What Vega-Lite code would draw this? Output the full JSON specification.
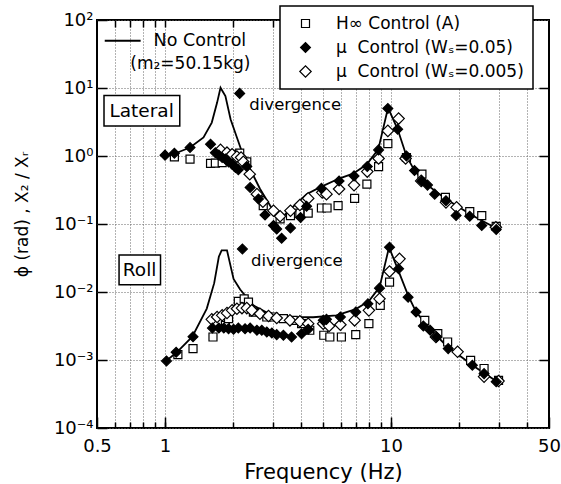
{
  "$schema": "https://vega.github.io/schema/vega-lite/v6.json",
  "width": 452,
  "height": 408,
  "autosize": {"type": "none"},
  "padding": {"left": 97, "top": 20, "right": 12, "bottom": 56},
  "background": "white",
  "config": {
    "view": {"stroke": "black", "strokeWidth": 2},
    "font": "DejaVu Sans",
    "axis": {
      "domain": false, "labelFont": "DejaVu Sans", "titleFont": "DejaVu Sans",
      "labelColor": "black", "titleColor": "black", "tickColor": "black", "tickWidth": 1.5,
      "gridColor": "#666", "gridDash": [1, 2], "gridWidth": 1, "titleFontWeight": "normal",
      "labelFontSize": 18, "labelOverlap": false, "labelFlush": false, "labelBound": false
    },
    "legend": {
      "orient": "none", "legendX": 183, "legendY": -14, "strokeColor": "black", "strokeWidth": 1.5,
      "fillColor": "white", "padding": 9, "labelFont": "DejaVu Sans", "labelFontSize": 17,
      "labelColor": "black", "rowPadding": 6, "symbolOffset": 8, "labelOffset": 22,
      "symbolStrokeColor": "black", "symbolStrokeWidth": 1.2, "labelLimit": 400
    }
  },
  "datasets": {
    "nocontrol": [
      {"c": "lat", "f": 1.0, "v": 1.0}, {"c": "lat", "f": 1.1, "v": 1.08}, {"c": "lat", "f": 1.29, "v": 1.33},
      {"c": "lat", "f": 1.48, "v": 1.87}, {"c": "lat", "f": 1.61, "v": 3.1}, {"c": "lat", "f": 1.7, "v": 6.1},
      {"c": "lat", "f": 1.76, "v": 10.1}, {"c": "lat", "f": 1.85, "v": 7.6}, {"c": "lat", "f": 1.95, "v": 3.47},
      {"c": "lat", "f": 2.08, "v": 1.87}, {"c": "lat", "f": 2.22, "v": 1.01}, {"c": "lat", "f": 2.38, "v": 0.64},
      {"c": "lat", "f": 2.63, "v": 0.33}, {"c": "lat", "f": 2.92, "v": 0.186}, {"c": "lat", "f": 3.23, "v": 0.117},
      {"c": "lat", "f": 3.59, "v": 0.166}, {"c": "lat", "f": 4.23, "v": 0.275}, {"c": "lat", "f": 4.84, "v": 0.345},
      {"c": "lat", "f": 5.93, "v": 0.47}, {"c": "lat", "f": 6.79, "v": 0.55}, {"c": "lat", "f": 7.8, "v": 0.75},
      {"c": "lat", "f": 8.78, "v": 1.25}, {"c": "lat", "f": 9.7, "v": 5.1}, {"c": "lat", "f": 10.7, "v": 2.47},
      {"c": "lat", "f": 11.7, "v": 1.0}, {"c": "lat", "f": 12.7, "v": 0.61}, {"c": "lat", "f": 14.3, "v": 0.386},
      {"c": "lat", "f": 17.5, "v": 0.233}, {"c": "lat", "f": 22.9, "v": 0.133}, {"c": "lat", "f": 29.5, "v": 0.085},
      {"c": "roll", "f": 1.0, "v": 0.00094}, {"c": "roll", "f": 1.13, "v": 0.00131}, {"c": "roll", "f": 1.32, "v": 0.0022},
      {"c": "roll", "f": 1.53, "v": 0.0057}, {"c": "roll", "f": 1.65, "v": 0.0135}, {"c": "roll", "f": 1.73, "v": 0.033},
      {"c": "roll", "f": 1.78, "v": 0.041}, {"c": "roll", "f": 1.88, "v": 0.041}, {"c": "roll", "f": 1.93, "v": 0.028},
      {"c": "roll", "f": 2.01, "v": 0.0156}, {"c": "roll", "f": 2.15, "v": 0.0109}, {"c": "roll", "f": 2.46, "v": 0.00635},
      {"c": "roll", "f": 2.82, "v": 0.005}, {"c": "roll", "f": 3.45, "v": 0.0043}, {"c": "roll", "f": 4.52, "v": 0.00425},
      {"c": "roll", "f": 5.73, "v": 0.00454}, {"c": "roll", "f": 6.99, "v": 0.0056}, {"c": "roll", "f": 8.0, "v": 0.0074},
      {"c": "roll", "f": 8.9, "v": 0.0118}, {"c": "roll", "f": 9.8, "v": 0.0455}, {"c": "roll", "f": 10.7, "v": 0.0219},
      {"c": "roll", "f": 11.9, "v": 0.0089}, {"c": "roll", "f": 12.9, "v": 0.0051}, {"c": "roll", "f": 14.8, "v": 0.0029},
      {"c": "roll", "f": 17.5, "v": 0.00165}, {"c": "roll", "f": 22.9, "v": 0.00084}, {"c": "roll", "f": 29.5, "v": 0.00048}
    ],
    "points": [
      {"s": "H∞ Control (A)", "f": 1.1, "v": 0.97}, {"s": "H∞ Control (A)", "f": 1.29, "v": 0.9},
      {"s": "H∞ Control (A)", "f": 1.59, "v": 0.78}, {"s": "H∞ Control (A)", "f": 1.67, "v": 0.785},
      {"s": "H∞ Control (A)", "f": 1.79, "v": 0.8}, {"s": "H∞ Control (A)", "f": 2.05, "v": 1.06},
      {"s": "H∞ Control (A)", "f": 2.14, "v": 1.1}, {"s": "H∞ Control (A)", "f": 2.3, "v": 0.82},
      {"s": "H∞ Control (A)", "f": 2.72, "v": 0.186}, {"s": "H∞ Control (A)", "f": 3.23, "v": 0.119},
      {"s": "H∞ Control (A)", "f": 3.59, "v": 0.133}, {"s": "H∞ Control (A)", "f": 3.95, "v": 0.145},
      {"s": "H∞ Control (A)", "f": 4.3, "v": 0.145}, {"s": "H∞ Control (A)", "f": 4.92, "v": 0.172},
      {"s": "H∞ Control (A)", "f": 5.21, "v": 0.172}, {"s": "H∞ Control (A)", "f": 5.83, "v": 0.186},
      {"s": "H∞ Control (A)", "f": 6.9, "v": 0.238}, {"s": "H∞ Control (A)", "f": 7.82, "v": 0.386},
      {"s": "H∞ Control (A)", "f": 8.81, "v": 0.7}, {"s": "H∞ Control (A)", "f": 9.68, "v": 1.52},
      {"s": "H∞ Control (A)", "f": 11.7, "v": 0.95}, {"s": "H∞ Control (A)", "f": 13.7, "v": 0.54},
      {"s": "H∞ Control (A)", "f": 17.4, "v": 0.246}, {"s": "H∞ Control (A)", "f": 22.3, "v": 0.152},
      {"s": "H∞ Control (A)", "f": 25.2, "v": 0.133}, {"s": "H∞ Control (A)", "f": 29.2, "v": 0.0925},
      {"s": "H∞ Control (A)", "f": 1.14, "v": 0.0012}, {"s": "H∞ Control (A)", "f": 1.33, "v": 0.00147},
      {"s": "H∞ Control (A)", "f": 1.63, "v": 0.00218}, {"s": "H∞ Control (A)", "f": 1.85, "v": 0.00324},
      {"s": "H∞ Control (A)", "f": 1.91, "v": 0.00405}, {"s": "H∞ Control (A)", "f": 2.11, "v": 0.00728},
      {"s": "H∞ Control (A)", "f": 2.24, "v": 0.00794}, {"s": "H∞ Control (A)", "f": 2.34, "v": 0.0071},
      {"s": "H∞ Control (A)", "f": 2.46, "v": 0.00507}, {"s": "H∞ Control (A)", "f": 2.82, "v": 0.00429},
      {"s": "H∞ Control (A)", "f": 3.02, "v": 0.00429}, {"s": "H∞ Control (A)", "f": 3.34, "v": 0.00405},
      {"s": "H∞ Control (A)", "f": 3.69, "v": 0.00383}, {"s": "H∞ Control (A)", "f": 4.02, "v": 0.00342},
      {"s": "H∞ Control (A)", "f": 4.37, "v": 0.00274}, {"s": "H∞ Control (A)", "f": 5.04, "v": 0.00231},
      {"s": "H∞ Control (A)", "f": 5.36, "v": 0.00218}, {"s": "H∞ Control (A)", "f": 6.03, "v": 0.00218},
      {"s": "H∞ Control (A)", "f": 6.98, "v": 0.00236}, {"s": "H∞ Control (A)", "f": 7.98, "v": 0.00342},
      {"s": "H∞ Control (A)", "f": 8.96, "v": 0.00635}, {"s": "H∞ Control (A)", "f": 9.85, "v": 0.014},
      {"s": "H∞ Control (A)", "f": 14.1, "v": 0.00383}, {"s": "H∞ Control (A)", "f": 16.1, "v": 0.00244},
      {"s": "H∞ Control (A)", "f": 17.8, "v": 0.00184}, {"s": "H∞ Control (A)", "f": 22.5, "v": 0.00099},
      {"s": "H∞ Control (A)", "f": 25.8, "v": 0.00075}, {"s": "H∞ Control (A)", "f": 29.9, "v": 0.0005},

      {"s": "μ\u00a0\u00a0Control (Wₛ=0.005)", "f": 1.76, "v": 1.23}, {"s": "μ\u00a0\u00a0Control (Wₛ=0.005)", "f": 1.88, "v": 1.12},
      {"s": "μ\u00a0\u00a0Control (Wₛ=0.005)", "f": 1.98, "v": 1.06}, {"s": "μ\u00a0\u00a0Control (Wₛ=0.005)", "f": 2.08, "v": 0.98},
      {"s": "μ\u00a0\u00a0Control (Wₛ=0.005)", "f": 2.17, "v": 0.95}, {"s": "μ\u00a0\u00a0Control (Wₛ=0.005)", "f": 2.22, "v": 0.82},
      {"s": "μ\u00a0\u00a0Control (Wₛ=0.005)", "f": 2.37, "v": 0.54}, {"s": "μ\u00a0\u00a0Control (Wₛ=0.005)", "f": 2.55, "v": 0.275},
      {"s": "μ\u00a0\u00a0Control (Wₛ=0.005)", "f": 2.71, "v": 0.213}, {"s": "μ\u00a0\u00a0Control (Wₛ=0.005)", "f": 3.02, "v": 0.157},
      {"s": "μ\u00a0\u00a0Control (Wₛ=0.005)", "f": 3.23, "v": 0.13}, {"s": "μ\u00a0\u00a0Control (Wₛ=0.005)", "f": 3.59, "v": 0.157},
      {"s": "μ\u00a0\u00a0Control (Wₛ=0.005)", "f": 3.95, "v": 0.19}, {"s": "μ\u00a0\u00a0Control (Wₛ=0.005)", "f": 4.3, "v": 0.238},
      {"s": "μ\u00a0\u00a0Control (Wₛ=0.005)", "f": 4.96, "v": 0.292}, {"s": "μ\u00a0\u00a0Control (Wₛ=0.005)", "f": 5.18, "v": 0.275},
      {"s": "μ\u00a0\u00a0Control (Wₛ=0.005)", "f": 5.89, "v": 0.327}, {"s": "μ\u00a0\u00a0Control (Wₛ=0.005)", "f": 6.86, "v": 0.373},
      {"s": "μ\u00a0\u00a0Control (Wₛ=0.005)", "f": 7.85, "v": 0.59}, {"s": "μ\u00a0\u00a0Control (Wₛ=0.005)", "f": 8.81, "v": 0.92},
      {"s": "μ\u00a0\u00a0Control (Wₛ=0.005)", "f": 9.68, "v": 2.34}, {"s": "μ\u00a0\u00a0Control (Wₛ=0.005)", "f": 10.8, "v": 3.55},
      {"s": "μ\u00a0\u00a0Control (Wₛ=0.005)", "f": 11.6, "v": 0.92}, {"s": "μ\u00a0\u00a0Control (Wₛ=0.005)", "f": 13.6, "v": 0.43},
      {"s": "μ\u00a0\u00a0Control (Wₛ=0.005)", "f": 17.5, "v": 0.208}, {"s": "μ\u00a0\u00a0Control (Wₛ=0.005)", "f": 19.5, "v": 0.176},
      {"s": "μ\u00a0\u00a0Control (Wₛ=0.005)", "f": 29.1, "v": 0.0895},
      {"s": "μ\u00a0\u00a0Control (Wₛ=0.005)", "f": 1.61, "v": 0.00396}, {"s": "μ\u00a0\u00a0Control (Wₛ=0.005)", "f": 1.7, "v": 0.00429},
      {"s": "μ\u00a0\u00a0Control (Wₛ=0.005)", "f": 1.79, "v": 0.00454}, {"s": "μ\u00a0\u00a0Control (Wₛ=0.005)", "f": 1.88, "v": 0.0049},
      {"s": "μ\u00a0\u00a0Control (Wₛ=0.005)", "f": 1.98, "v": 0.00537}, {"s": "μ\u00a0\u00a0Control (Wₛ=0.005)", "f": 2.08, "v": 0.00568},
      {"s": "μ\u00a0\u00a0Control (Wₛ=0.005)", "f": 2.19, "v": 0.0058}, {"s": "μ\u00a0\u00a0Control (Wₛ=0.005)", "f": 2.3, "v": 0.0058},
      {"s": "μ\u00a0\u00a0Control (Wₛ=0.005)", "f": 2.42, "v": 0.00537}, {"s": "μ\u00a0\u00a0Control (Wₛ=0.005)", "f": 2.63, "v": 0.00478},
      {"s": "μ\u00a0\u00a0Control (Wₛ=0.005)", "f": 2.87, "v": 0.00443}, {"s": "μ\u00a0\u00a0Control (Wₛ=0.005)", "f": 3.12, "v": 0.00414},
      {"s": "μ\u00a0\u00a0Control (Wₛ=0.005)", "f": 3.57, "v": 0.00383}, {"s": "μ\u00a0\u00a0Control (Wₛ=0.005)", "f": 3.95, "v": 0.0037},
      {"s": "μ\u00a0\u00a0Control (Wₛ=0.005)", "f": 4.3, "v": 0.00342}, {"s": "μ\u00a0\u00a0Control (Wₛ=0.005)", "f": 5.01, "v": 0.00342},
      {"s": "μ\u00a0\u00a0Control (Wₛ=0.005)", "f": 5.32, "v": 0.00316}, {"s": "μ\u00a0\u00a0Control (Wₛ=0.005)", "f": 5.97, "v": 0.0033},
      {"s": "μ\u00a0\u00a0Control (Wₛ=0.005)", "f": 6.9, "v": 0.00383}, {"s": "μ\u00a0\u00a0Control (Wₛ=0.005)", "f": 7.98, "v": 0.00537},
      {"s": "μ\u00a0\u00a0Control (Wₛ=0.005)", "f": 8.89, "v": 0.00794}, {"s": "μ\u00a0\u00a0Control (Wₛ=0.005)", "f": 9.85, "v": 0.02},
      {"s": "μ\u00a0\u00a0Control (Wₛ=0.005)", "f": 10.9, "v": 0.0307}, {"s": "μ\u00a0\u00a0Control (Wₛ=0.005)", "f": 15.8, "v": 0.00218},
      {"s": "μ\u00a0\u00a0Control (Wₛ=0.005)", "f": 19.7, "v": 0.00132}, {"s": "μ\u00a0\u00a0Control (Wₛ=0.005)", "f": 25.8, "v": 0.00057},
      {"s": "μ\u00a0\u00a0Control (Wₛ=0.005)", "f": 29.9, "v": 0.00049},

      {"s": "μ\u00a0\u00a0Control (Wₛ=0.05)", "f": 1.0, "v": 1.03}, {"s": "μ\u00a0\u00a0Control (Wₛ=0.05)", "f": 1.1, "v": 1.1},
      {"s": "μ\u00a0\u00a0Control (Wₛ=0.05)", "f": 1.29, "v": 1.33}, {"s": "μ\u00a0\u00a0Control (Wₛ=0.05)", "f": 1.59, "v": 1.49},
      {"s": "μ\u00a0\u00a0Control (Wₛ=0.05)", "f": 1.67, "v": 1.12}, {"s": "μ\u00a0\u00a0Control (Wₛ=0.05)", "f": 1.73, "v": 1.03},
      {"s": "μ\u00a0\u00a0Control (Wₛ=0.05)", "f": 1.79, "v": 0.95}, {"s": "μ\u00a0\u00a0Control (Wₛ=0.05)", "f": 1.85, "v": 0.9},
      {"s": "μ\u00a0\u00a0Control (Wₛ=0.05)", "f": 1.91, "v": 0.82}, {"s": "μ\u00a0\u00a0Control (Wₛ=0.05)", "f": 1.98, "v": 0.76},
      {"s": "μ\u00a0\u00a0Control (Wₛ=0.05)", "f": 2.05, "v": 0.68}, {"s": "μ\u00a0\u00a0Control (Wₛ=0.05)", "f": 2.11, "v": 0.63},
      {"s": "μ\u00a0\u00a0Control (Wₛ=0.05)", "f": 2.3, "v": 0.7}, {"s": "μ\u00a0\u00a0Control (Wₛ=0.05)", "f": 2.38, "v": 0.345},
      {"s": "μ\u00a0\u00a0Control (Wₛ=0.05)", "f": 2.59, "v": 0.233}, {"s": "μ\u00a0\u00a0Control (Wₛ=0.05)", "f": 2.77, "v": 0.136},
      {"s": "μ\u00a0\u00a0Control (Wₛ=0.05)", "f": 3.02, "v": 0.095}, {"s": "μ\u00a0\u00a0Control (Wₛ=0.05)", "f": 3.12, "v": 0.0845},
      {"s": "μ\u00a0\u00a0Control (Wₛ=0.05)", "f": 3.28, "v": 0.0617}, {"s": "μ\u00a0\u00a0Control (Wₛ=0.05)", "f": 3.59, "v": 0.0874},
      {"s": "μ\u00a0\u00a0Control (Wₛ=0.05)", "f": 3.98, "v": 0.125}, {"s": "μ\u00a0\u00a0Control (Wₛ=0.05)", "f": 4.23, "v": 0.182},
      {"s": "μ\u00a0\u00a0Control (Wₛ=0.05)", "f": 4.92, "v": 0.334}, {"s": "μ\u00a0\u00a0Control (Wₛ=0.05)", "f": 5.89, "v": 0.43},
      {"s": "μ\u00a0\u00a0Control (Wₛ=0.05)", "f": 6.86, "v": 0.51}, {"s": "μ\u00a0\u00a0Control (Wₛ=0.05)", "f": 7.85, "v": 0.7},
      {"s": "μ\u00a0\u00a0Control (Wₛ=0.05)", "f": 8.81, "v": 1.23}, {"s": "μ\u00a0\u00a0Control (Wₛ=0.05)", "f": 9.68, "v": 5.0},
      {"s": "μ\u00a0\u00a0Control (Wₛ=0.05)", "f": 10.7, "v": 2.47}, {"s": "μ\u00a0\u00a0Control (Wₛ=0.05)", "f": 11.7, "v": 1.0},
      {"s": "μ\u00a0\u00a0Control (Wₛ=0.05)", "f": 12.7, "v": 0.61}, {"s": "μ\u00a0\u00a0Control (Wₛ=0.05)", "f": 13.7, "v": 0.43},
      {"s": "μ\u00a0\u00a0Control (Wₛ=0.05)", "f": 14.5, "v": 0.373}, {"s": "μ\u00a0\u00a0Control (Wₛ=0.05)", "f": 15.6, "v": 0.275},
      {"s": "μ\u00a0\u00a0Control (Wₛ=0.05)", "f": 17.5, "v": 0.22}, {"s": "μ\u00a0\u00a0Control (Wₛ=0.05)", "f": 19.4, "v": 0.133},
      {"s": "μ\u00a0\u00a0Control (Wₛ=0.05)", "f": 22.3, "v": 0.13}, {"s": "μ\u00a0\u00a0Control (Wₛ=0.05)", "f": 25.2, "v": 0.095},
      {"s": "μ\u00a0\u00a0Control (Wₛ=0.05)", "f": 29.2, "v": 0.0828}, {"s": "μ\u00a0\u00a0Control (Wₛ=0.05)", "f": 2.14, "v": 8.33},
      {"s": "μ\u00a0\u00a0Control (Wₛ=0.05)", "f": 1.015, "v": 0.00097}, {"s": "μ\u00a0\u00a0Control (Wₛ=0.05)", "f": 1.12, "v": 0.0013},
      {"s": "μ\u00a0\u00a0Control (Wₛ=0.05)", "f": 1.33, "v": 0.0022}, {"s": "μ\u00a0\u00a0Control (Wₛ=0.05)", "f": 1.62, "v": 0.00295},
      {"s": "μ\u00a0\u00a0Control (Wₛ=0.05)", "f": 1.73, "v": 0.00295}, {"s": "μ\u00a0\u00a0Control (Wₛ=0.05)", "f": 1.82, "v": 0.00295},
      {"s": "μ\u00a0\u00a0Control (Wₛ=0.05)", "f": 1.91, "v": 0.00288}, {"s": "μ\u00a0\u00a0Control (Wₛ=0.05)", "f": 2.01, "v": 0.00283},
      {"s": "μ\u00a0\u00a0Control (Wₛ=0.05)", "f": 2.11, "v": 0.00295}, {"s": "μ\u00a0\u00a0Control (Wₛ=0.05)", "f": 2.26, "v": 0.00288},
      {"s": "μ\u00a0\u00a0Control (Wₛ=0.05)", "f": 2.38, "v": 0.00295}, {"s": "μ\u00a0\u00a0Control (Wₛ=0.05)", "f": 2.55, "v": 0.00274},
      {"s": "μ\u00a0\u00a0Control (Wₛ=0.05)", "f": 2.68, "v": 0.00274}, {"s": "μ\u00a0\u00a0Control (Wₛ=0.05)", "f": 2.82, "v": 0.00258},
      {"s": "μ\u00a0\u00a0Control (Wₛ=0.05)", "f": 2.97, "v": 0.0025}, {"s": "μ\u00a0\u00a0Control (Wₛ=0.05)", "f": 3.12, "v": 0.00236},
      {"s": "μ\u00a0\u00a0Control (Wₛ=0.05)", "f": 3.34, "v": 0.00231}, {"s": "μ\u00a0\u00a0Control (Wₛ=0.05)", "f": 3.63, "v": 0.00218},
      {"s": "μ\u00a0\u00a0Control (Wₛ=0.05)", "f": 4.02, "v": 0.00244}, {"s": "μ\u00a0\u00a0Control (Wₛ=0.05)", "f": 4.3, "v": 0.00283},
      {"s": "μ\u00a0\u00a0Control (Wₛ=0.05)", "f": 5.01, "v": 0.00383}, {"s": "μ\u00a0\u00a0Control (Wₛ=0.05)", "f": 5.18, "v": 0.00396},
      {"s": "μ\u00a0\u00a0Control (Wₛ=0.05)", "f": 5.97, "v": 0.00429}, {"s": "μ\u00a0\u00a0Control (Wₛ=0.05)", "f": 6.98, "v": 0.00507},
      {"s": "μ\u00a0\u00a0Control (Wₛ=0.05)", "f": 7.9, "v": 0.0067}, {"s": "μ\u00a0\u00a0Control (Wₛ=0.05)", "f": 8.89, "v": 0.0114},
      {"s": "μ\u00a0\u00a0Control (Wₛ=0.05)", "f": 9.85, "v": 0.0455}, {"s": "μ\u00a0\u00a0Control (Wₛ=0.05)", "f": 10.8, "v": 0.0219},
      {"s": "μ\u00a0\u00a0Control (Wₛ=0.05)", "f": 11.9, "v": 0.0084}, {"s": "μ\u00a0\u00a0Control (Wₛ=0.05)", "f": 12.9, "v": 0.00507},
      {"s": "μ\u00a0\u00a0Control (Wₛ=0.05)", "f": 13.9, "v": 0.00316}, {"s": "μ\u00a0\u00a0Control (Wₛ=0.05)", "f": 14.9, "v": 0.00274},
      {"s": "μ\u00a0\u00a0Control (Wₛ=0.05)", "f": 15.9, "v": 0.00218}, {"s": "μ\u00a0\u00a0Control (Wₛ=0.05)", "f": 17.9, "v": 0.00147},
      {"s": "μ\u00a0\u00a0Control (Wₛ=0.05)", "f": 22.9, "v": 0.00084}, {"s": "μ\u00a0\u00a0Control (Wₛ=0.05)", "f": 25.8, "v": 0.00063},
      {"s": "μ\u00a0\u00a0Control (Wₛ=0.05)", "f": 29.2, "v": 0.00048}, {"s": "μ\u00a0\u00a0Control (Wₛ=0.05)", "f": 2.2, "v": 0.043}
    ]
  },
  "layer": [
    {
      "data": {"name": "nocontrol"},
      "mark": {"type": "line", "color": "black", "strokeWidth": 1.8},
      "encoding": {
        "x": {"field": "f", "type": "quantitative",
          "scale": {"type": "log", "domain": [0.5, 50], "nice": false},
          "axis": {"orient": "bottom", "values": [0.5, 1, 10, 50], "tickSize": -11, "grid": false,
            "labelPadding": 20, "title": "Frequency (Hz)", "titleFontSize": 21, "titleY": 44, "titleBaseline": "middle"}},
        "y": {"field": "v", "type": "quantitative",
          "scale": {"type": "log", "domain": [0.0001, 100], "nice": false},
          "axis": {"orient": "left", "values": [0.0001, 0.001, 0.01, 0.1, 1, 10, 100], "tickSize": -10, "grid": true,
            "labelPadding": 14,
            "labelExpr": "'10' + ['⁻⁴','⁻³','⁻²','⁻¹','⁰','¹','²'][round(log(datum.value)/LN10)+4]",
            "title": "ϕ (rad) , X₂ / Xᵣ", "titleFontSize": 17, "titleX": -75, "titleY": 194, "titleBaseline": "middle"}},
        "detail": {"field": "c", "type": "nominal"}
      }
    },
    {
      "data": {"name": "points"},
      "mark": {"type": "point", "filled": true, "stroke": "black", "strokeWidth": 1.2, "opacity": 1},
      "encoding": {
        "x": {"field": "f", "type": "quantitative",
          "axis": {"orient": "bottom", "values": [0.6, 0.7, 0.8, 0.9, 1, 2, 3, 4, 5, 6, 7, 8, 9, 10, 20, 30, 40],
            "tickSize": -6, "labels": false, "grid": true, "title": null}},
        "y": {"field": "v", "type": "quantitative",
          "axis": {"orient": "right", "values": [0.001, 0.01, 0.1, 1, 10], "tickSize": -10, "labels": false, "grid": false, "title": null}},
        "shape": {"field": "s", "type": "nominal",
          "scale": {"domain": ["H∞ Control (A)", "μ\u00a0\u00a0Control (Wₛ=0.05)", "μ\u00a0\u00a0Control (Wₛ=0.005)"], "range": ["square", "diamond", "diamond"]},
          "legend": {"title": null}},
        "fill": {"field": "s", "type": "nominal",
          "scale": {"domain": ["H∞ Control (A)", "μ\u00a0\u00a0Control (Wₛ=0.05)", "μ\u00a0\u00a0Control (Wₛ=0.005)"], "range": ["white", "black", "white"]},
          "legend": {"title": null}},
        "stroke": {"field": "s", "type": "nominal",
          "scale": {"domain": ["H∞ Control (A)", "μ\u00a0\u00a0Control (Wₛ=0.05)", "μ\u00a0\u00a0Control (Wₛ=0.005)"], "range": ["black", "black", "black"]},
          "legend": {"title": null}},
        "size": {"field": "s", "type": "nominal",
          "scale": {"domain": ["H∞ Control (A)", "μ\u00a0\u00a0Control (Wₛ=0.05)", "μ\u00a0\u00a0Control (Wₛ=0.005)"], "range": [64, 130, 130]},
          "legend": {"title": null}}
      }
    },
    {
      "data": {"values": [
        {"f1": 0.537, "f2": 1.162, "v1": 2.77, "v2": 7.79},
        {"f1": 0.626, "f2": 0.955, "v1": 0.01276, "v2": 0.0351}
      ]},
      "mark": {"type": "rect", "fill": "white", "stroke": "black", "strokeWidth": 1.5},
      "encoding": {
        "x": {"field": "f1", "type": "quantitative",
          "axis": {"orient": "top", "values": [0.6, 0.7, 0.8, 0.9, 1, 2, 3, 4, 5, 6, 7, 8, 9, 10, 20, 30, 40],
            "tickSize": -7, "labels": false, "grid": false, "title": null}},
        "x2": {"field": "f2"},
        "y": {"field": "v1", "type": "quantitative", "axis": null},
        "y2": {"field": "v2"}
      }
    },
    {
      "data": {"values": [
        {"t": "Lateral", "f": 0.788, "v": 4.65},
        {"t": "Roll", "f": 0.772, "v": 0.021}
      ]},
      "mark": {"type": "text", "font": "DejaVu Sans", "fontSize": 18.5, "align": "center", "baseline": "middle", "color": "black"},
      "encoding": {
        "x": {"field": "f", "type": "quantitative", "axis": null},
        "y": {"field": "v", "type": "quantitative", "axis": null},
        "text": {"field": "t"}
      }
    },
    {
      "data": {"values": [
        {"t": "divergence", "f": 2.36, "v": 5.56},
        {"t": "divergence", "f": 2.4, "v": 0.029}
      ]},
      "mark": {"type": "text", "font": "DejaVu Sans", "fontSize": 16.5, "align": "left", "baseline": "middle", "color": "black"},
      "encoding": {
        "x": {"field": "f", "type": "quantitative", "axis": null},
        "y": {"field": "v", "type": "quantitative", "axis": null},
        "text": {"field": "t"}
      }
    },
    {
      "data": {"values": [{"f1": 0.541, "f2": 0.78, "v": 49.4}]},
      "mark": {"type": "rule", "color": "black", "strokeWidth": 2},
      "encoding": {
        "x": {"field": "f1", "type": "quantitative", "axis": null},
        "x2": {"field": "f2"},
        "y": {"field": "v", "type": "quantitative", "axis": null}
      }
    },
    {
      "data": {"values": [{"t": "No Control", "f": 0.89, "v": 49.4}]},
      "mark": {"type": "text", "font": "DejaVu Sans", "fontSize": 17.5, "align": "left", "baseline": "middle", "color": "black"},
      "encoding": {
        "x": {"field": "f", "type": "quantitative", "axis": null},
        "y": {"field": "v", "type": "quantitative", "axis": null},
        "text": {"field": "t"}
      }
    },
    {
      "data": {"values": [{"t": "(m₂=50.15kg)", "f": 1.295, "v": 22.2}]},
      "mark": {"type": "text", "font": "DejaVu Sans", "fontSize": 17, "align": "center", "baseline": "middle", "color": "black"},
      "encoding": {
        "x": {"field": "f", "type": "quantitative", "axis": null},
        "y": {"field": "v", "type": "quantitative", "axis": null},
        "text": {"field": "t"}
      }
    }
  ],
  "resolve": {"axis": {"x": "independent", "y": "independent"}}
}
